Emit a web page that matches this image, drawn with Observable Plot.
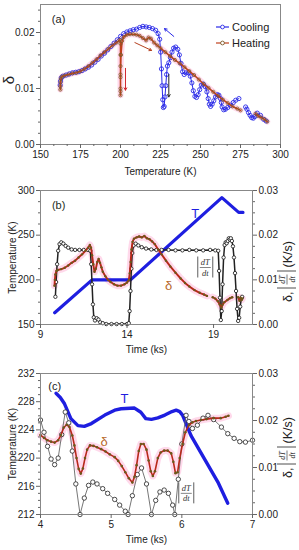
<!DOCTYPE html>
<html><head><meta charset="utf-8">
<script src="https://cdn.jsdelivr.net/npm/d3@7"></script>
<script src="https://cdn.jsdelivr.net/npm/@observablehq/plot@0.6"></script>
<style>
body{margin:0;background:#fff;width:299px;height:550px;overflow:hidden}
#a,#b,#c{position:relative}
svg{display:block}
</style></head><body>
<div id="a"></div><div id="b"></div><div id="c"></div>
<script>
// ---------------- Panel (a): delta vs temperature ----------------
const coolingA = [[291,0.0042],[289.5,0.0045],[287.5,0.0052],[285.5,0.0056],[284,0.0050],[283,0.0047],[282,0.0048],[281,0.0052],[280,0.0057],[279,0.0063],[278.2,0.0067],[NaN,NaN],[274,0.0082],[272,0.0079],[270.5,0.0075],[268.7,0.0070],[267,0.0066],[265.6,0.0063],[264.5,0.0062],[263.5,0.0067],[263,0.0075],[262.5,0.0082],[261.5,0.0088],[260.5,0.0089],[259.4,0.0085],[258.3,0.0078],[257.3,0.0072],[256.3,0.0068],[255.5,0.0072],[254.8,0.0082],[254,0.0094],[253,0.0103],[251.7,0.0108],[250.5,0.0106],[249.5,0.0098],[248.5,0.0089],[247.5,0.0084],[246.5,0.0086],[245.5,0.0096],[244.6,0.0110],[243.6,0.0122],[242.5,0.0128],[241,0.0128],[239.8,0.0125],[238.8,0.0130],[237.8,0.0145],[236.8,0.0160],[235.8,0.0170],[234.5,0.0174],[233.2,0.0172],[232.2,0.0165],[231.2,0.0155],[230.2,0.0146],[229.3,0.0140],[228.8,0.0125],[228.3,0.0105],[227.8,0.0085],[227.3,0.0068],[226.8,0.0066],[226.4,0.0080],[226,0.0105],[225.6,0.0135],[225.1,0.0165],[224.5,0.0188],[223.5,0.0198],[222,0.0204],[220,0.0207],[218,0.0209],[216,0.0210],[214,0.0211],[212,0.0209],[210,0.0206],[208,0.0205],[206,0.0203],[204,0.0201],[202,0.0198],[200,0.0193],[198,0.0187],[196,0.0181],[194,0.0175],[192,0.0169],[190,0.0163],[188,0.0158],[186,0.0152],[184,0.0147],[182,0.0142],[180,0.0138],[178,0.0135],[176,0.0132],[174,0.0130],[172,0.0129],[170,0.0128],[168,0.0126],[166,0.0124],[164,0.0122],[163,0.0119],[162.5,0.0113],[162.3,0.0106]];
const heatingA = [[162.4,0.0098],[162.4,0.0104],[162.5,0.0111],[162.7,0.0117],[163.3,0.0121],[165,0.0123],[167.5,0.0125],[170,0.0127],[172.5,0.0128],[175,0.0131],[177.5,0.0135],[180,0.0140],[182.5,0.0146],[185,0.0152],[187.5,0.0159],[190,0.0165],[192.5,0.0171],[195,0.0177],[197.5,0.0182],[199.6,0.0187],[200,0.0180],[200,0.0160],[200,0.0140],[200,0.0120],[200,0.0100],[200,0.0088],[200,0.0095],[200,0.0125],[200.3,0.0160],[201,0.0185],[202,0.0192],[204,0.0196],[206,0.0197],[208,0.0197],[210,0.0196],[212,0.0194],[214,0.0190],[216,0.0186],[217.5,0.0191],[219,0.0189],[221,0.0182],[223,0.0177],[225,0.0172],[228,0.0165],[231,0.0158],[234,0.0151],[237,0.0145],[240,0.0138],[243,0.0131],[246,0.0124],[249,0.0116],[252,0.0108],[255,0.0101],[258,0.0094],[261,0.0087],[264,0.0080],[267,0.0074],[270,0.0068],[273,0.0064],[275,0.0061],[NaN,NaN],[284.4,0.0055],[286,0.0051],[288,0.0048],[290,0.0045],[291.7,0.0041]];
const aXTicks = [150,175,200,225,250,275,300];
const aXMinor = [158.33,166.67,183.33,191.67,208.33,216.67,233.33,241.67,258.33,266.67,283.33,291.67];
const aYTicks = [0,0.01,0.02];
const aYMinor = [0.002,0.004,0.006,0.008,0.012,0.014,0.016,0.018,0.022,0.024];
const aArrows = [
  {x1:233.3,y1:0.0193,x2:227.5,y2:0.0207,c:"#2b2be8"},
  {x1:209,y1:0.0182,x2:219.4,y2:0.0168,c:"#b5401f"},
  {x1:230.2,y1:0.0125,x2:230.2,y2:0.0085,c:"#222"},
  {x1:203.1,y1:0.0136,x2:203.1,y2:0.0097,c:"#d0202a"}
];
const aLabels = [{x:161.3,y:0.0224,text:"(a)"}];
const aLegend = ["Cooling","Heating"];

// ---------------- Panel (b): time series ----------------
const bTemp = [[9.82,163.2],[11.98,200],[14.2,200],[19.48,292],[20.45,275.5],[20.7,275.5]];
const bRate = [[9.86,0.0062],[9.9,0.0095],[9.96,0.0135],[10.02,0.0165],[10.1,0.0180],[10.2,0.0184],[10.32,0.0181],[10.45,0.0176],[10.6,0.0172],[10.8,0.0168],[11.0,0.0167],[11.25,0.0167],[11.5,0.0167],[11.75,0.0167],[11.88,0.0165],[11.93,0.0135],[11.98,0.0090],[12.03,0.0045],[12.08,0.0016],[12.15,0.0009],[12.25,0.0014],[12.35,0.0011],[12.45,0.0005],[12.6,0.0003],[12.8,0.0001],[13.1,0.0001],[13.4,0.0001],[13.7,0.0001],[14.0,0.0001],[14.1,0.0003],[14.15,0.0030],[14.2,0.0075],[14.25,0.0125],[14.3,0.0160],[14.38,0.0177],[14.5,0.0181],[14.65,0.0177],[14.85,0.0173],[15.1,0.0170],[15.4,0.0168],[15.7,0.0167],[16.0,0.0167],[16.4,0.0167],[16.8,0.0166],[17.2,0.0166],[17.6,0.0167],[18.0,0.0166],[18.4,0.0166],[18.8,0.0167],[19.1,0.0166],[19.27,0.0165],[19.32,0.0120],[19.37,0.0060],[19.42,0.0010],[19.47,0.0030],[19.52,0.0090],[19.58,0.0150],[19.64,0.0178],[19.7,0.0184],[19.76,0.0182],[19.82,0.0187],[19.88,0.0193],[19.94,0.0190],[20.0,0.0193],[20.06,0.0187],[20.12,0.0175],[20.18,0.0150],[20.24,0.0115],[20.3,0.0075],[20.36,0.0035],[20.42,0.0008],[20.48,0.0015],[20.54,0.0040],[20.6,0.0058],[20.65,0.0062]];
const bDelta = [[9.81,0.0087],[9.83,0.0100],[9.86,0.0112],[9.92,0.0120],[10.0,0.0122],[10.2,0.0124],[10.4,0.0127],[10.6,0.0132],[10.8,0.0138],[11.0,0.0143],[11.2,0.0150],[11.4,0.0157],[11.6,0.0165],[11.75,0.0172],[11.85,0.0178],[11.92,0.0172],[11.98,0.0155],[12.05,0.0135],[12.12,0.0118],[12.2,0.0125],[12.28,0.0140],[12.36,0.0147],[12.44,0.0138],[12.52,0.0128],[12.6,0.0118],[12.75,0.0108],[12.9,0.0100],[13.05,0.0095],[13.25,0.0090],[13.45,0.0087],[13.65,0.0087],[13.85,0.0090],[14.0,0.0094],[14.1,0.0099],[14.16,0.0115],[14.21,0.0140],[14.26,0.0168],[14.32,0.0185],[14.4,0.0192],[14.55,0.0195],[14.7,0.0197],[14.85,0.0195],[15.0,0.0198],[15.15,0.0193],[15.3,0.0191],[15.45,0.0186],[15.6,0.0180],[15.8,0.0168],[16.0,0.0157],[16.25,0.0143],[16.5,0.0130],[16.8,0.0116],[17.1,0.0103],[17.35,0.0093],[17.6,0.0085],[17.9,0.0077],[18.2,0.0071],[18.45,0.0067],[18.62,0.0064],[NaN,NaN],[18.95,0.0061],[19.1,0.0058],[19.25,0.0052],[19.35,0.0045],[19.44,0.0038],[19.52,0.0044],[19.62,0.0050],[19.8,0.0055],[19.95,0.0059],[20.08,0.0061],[NaN,NaN],[20.42,0.0061],[20.5,0.0053],[20.56,0.0060],[20.62,0.0055],[20.66,0.0058]];
const bXTicks = [9,14,19];
const bYTicks = [150,200,250,300];
const bYMinor = [162.5,175,187.5,212.5,225,237.5,262.5,275,287.5];
const bRightTicks = [0,0.01,0.02,0.03];
const bLabels = [{x:10.05,y:283.5,text:"(b)",c:"#1e2e1e",s:11},{x:17.94,y:273.9,text:"T",c:"#1e1ee0",s:13},{x:16.4,y:193.6,text:"δ",c:"#b8682a",s:13}];
const bFrac = [{x:18.55,y:213.8}];

// ---------------- Panel (c): zoomed time series ----------------
const cTemp = [[4.22,229.2],[4.28,228.6],[4.34,227.7],[4.43,225.6],[4.53,224.6],[4.62,224.5],[4.72,224.9],[4.91,226.1],[5.05,226.8],[5.14,227.0],[5.33,227.1],[5.42,226.5],[5.49,225.6],[5.57,225.5],[5.66,225.7],[5.76,226.1],[5.86,226.6],[5.92,226.8],[5.97,226.6],[6.01,226.1],[6.13,223.2],[6.32,219.9],[6.51,216.6],[6.65,213.6]];
const cRate = [[4.0,0.0201],[4.05,0.0175],[4.1,0.0145],[4.15,0.0118],[4.2,0.0106],[4.25,0.0120],[4.3,0.0170],[4.35,0.0218],[4.4,0.0195],[4.45,0.0135],[4.5,0.0065],[4.56,0.0],[4.62,0.0035],[4.68,0.0062],[4.74,0.0069],[4.8,0.0065],[4.88,0.0055],[4.95,0.0045],[5.05,0.0032],[5.12,0.0020],[5.2,0.0007],[5.24,0.0],[5.3,0.0040],[5.37,0.0085],[5.43,0.0099],[5.5,0.0065],[5.57,0.0],[5.63,0.0030],[5.69,0.0048],[5.75,0.0052],[5.81,0.0045],[5.87,0.0020],[5.9,0.0],[5.95,0.0075],[6.0,0.0150],[6.06,0.0211],[6.1,0.0198],[6.15,0.0183],[6.22,0.0190],[6.3,0.0205],[6.37,0.0211],[6.45,0.0202],[6.56,0.0186],[6.65,0.0172],[6.74,0.0162],[6.82,0.0155],[6.9,0.0154],[7.0,0.0158]];
const cDelta = [[4.0,0.0169],[4.05,0.0163],[4.1,0.0158],[4.15,0.0155],[4.2,0.0153],[4.25,0.0158],[4.29,0.0169],[4.33,0.0185],[4.37,0.0191],[4.41,0.0186],[4.45,0.0168],[4.48,0.0147],[4.51,0.0120],[4.54,0.0097],[4.57,0.0087],[4.6,0.0098],[4.63,0.0120],[4.66,0.0138],[4.7,0.0147],[4.75,0.0146],[4.8,0.0143],[4.86,0.0139],[4.92,0.0134],[4.98,0.0128],[5.05,0.0122],[5.1,0.0114],[5.15,0.0103],[5.2,0.0090],[5.25,0.0077],[5.3,0.0068],[5.33,0.0080],[5.36,0.0105],[5.39,0.0135],[5.42,0.0150],[5.46,0.0150],[5.5,0.0138],[5.53,0.0115],[5.56,0.0092],[5.59,0.0082],[5.62,0.0092],[5.66,0.0120],[5.7,0.0132],[5.75,0.0136],[5.8,0.0136],[5.85,0.0130],[5.88,0.0112],[5.91,0.0088],[5.94,0.0090],[5.97,0.0120],[6.01,0.0150],[6.05,0.0175],[6.1,0.0190],[6.15,0.0196],[6.2,0.0199],[6.27,0.0201],[6.35,0.0203],[6.45,0.0205],[6.55,0.0205],[6.62,0.0208],[6.66,0.0210]];
const cXTicks = [4,5,6,7];
const cYTicks = [212,216,220,224,228,232];
const cYMinor = [213,214,215,217,218,219,221,222,223,225,226,227,229,230,231];
const cRightTicks = [0,0.01,0.02,0.03];
const cRightMinor = [0.0025,0.005,0.0075,0.0125,0.015,0.0175,0.0225,0.025,0.0275];
const cLabels = [{x:4.2,y:230.1,text:"(c)",c:"#222",s:11},{x:5.19,y:228.4,text:"T",c:"#1e1ee0",s:13},{x:4.9,y:222.3,text:"δ",c:"#b8682a",s:13}];
const cFrac = [{x:6.07,y:215.0}];

// ---------------- helpers ----------------
const FONT = "'Liberation Sans', Arial, Helvetica, sans-serif";
const SERIF = "'Liberation Serif', 'DejaVu Serif', serif";
const BLUE = "#2b2be8", TBLUE = "#1e1ee0", RED = "#b8281a", PINK = "#ffd0e6";
const rows = (arr, k1, k2) => arr.map(p => ({[k1]: p[0], [k2]: p[1]}));
const blank = () => "";

function absFrac(svg, cx, cy) {
  const g = svg.append("g").attr("transform", `translate(${cx},${cy})`);
  const ln = (x1,y1,x2,y2,w) => g.append("line").attr("x1",x1).attr("y1",y1).attr("x2",x2).attr("y2",y2).attr("stroke","#333").attr("stroke-width",w);
  ln(-7.5,-10.5,-7.5,10.5,0.8); ln(7.5,-10.5,7.5,10.5,0.8); ln(-5.5,0.5,5.5,0.5,0.6);
  g.append("text").attr("x",0).attr("y",-2).attr("text-anchor","middle").attr("font-family",SERIF).attr("font-style","italic").attr("font-size",8.5).attr("fill","#333").text("dT");
  g.append("text").attr("x",0).attr("y",8.6).attr("text-anchor","middle").attr("font-family",SERIF).attr("font-style","italic").attr("font-size",8.5).attr("fill","#333").text("dt");
}
function rightLabel(svg, x, y) {
  const g = svg.append("g").attr("transform", `translate(${x},${y}) rotate(-90)`).attr("fill","#222");
  const ln = (x1,y1,x2,y2,w) => g.append("line").attr("x1",x1).attr("y1",y1).attr("x2",x2).attr("y2",y2).attr("stroke","#222").attr("stroke-width",w);
  g.append("text").attr("x",-36).attr("y",4.5).attr("text-anchor","start").attr("font-family",FONT).attr("font-size",12.5).text("δ,");
  ln(-22,-10,-22,9,0.8); ln(-5,-10,-5,9,0.8); ln(-18.5,0,-8.5,0,0.6);
  g.append("text").attr("x",-13.5).attr("y",-2).attr("text-anchor","middle").attr("font-family",SERIF).attr("font-style","italic").attr("font-size",8).text("dT");
  g.append("text").attr("x",-13.5).attr("y",7.5).attr("text-anchor","middle").attr("font-family",SERIF).attr("font-style","italic").attr("font-size",8).text("dt");
  g.append("text").attr("x",-1.5).attr("y",4.5).attr("text-anchor","start").attr("font-family",FONT).attr("font-size",12.5).text("(K/s)");
}
const baseStyle = {fontFamily: FONT, fontSize: "10px", background: "white", color: "#222", overflow: "visible"};

// ---------------- draw (a) ----------------
const coolRows = rows(coolingA, "T", "d");
const heatRows = rows(heatingA, "T", "d");
const A = Plot.plot({
  width: 299, height: 180, marginLeft: 40, marginRight: 19, marginTop: 4, marginBottom: 36,
  style: baseStyle,
  x: {domain: [150, 300]},
  y: {domain: [0, 0.025]},
  marks: [
    Plot.line(heatRows, {x: "T", y: "d", stroke: PINK, strokeWidth: 6, strokeOpacity: 0.8}),
    Plot.line(coolRows, {x: "T", y: "d", stroke: BLUE, strokeWidth: 1}),
    Plot.dot(coolRows, {x: "T", y: "d", r: 2.1, stroke: BLUE, strokeWidth: 0.9, fill: "none"}),
    Plot.line(heatRows, {x: "T", y: "d", stroke: "#c0401e", strokeWidth: 1.6}),
    Plot.dot(heatRows, {x: "T", y: "d", r: 1.6, stroke: "#7d5a2a", strokeWidth: 0.8, fill: "none"}),
    Plot.arrow(aArrows, {x1: "x1", y1: "y1", x2: "x2", y2: "y2", stroke: "c", strokeWidth: 1, headLength: 4}),
    Plot.text(aLabels, {x: "x", y: "y", text: "text", fontSize: 11, fill: "#222"}),
    Plot.frame({stroke: "#888"}),
    Plot.axisX({ticks: aXTicks, tickSize: 4, tickPadding: 2, stroke: "#666", fill: "#222", tickFormat: d => d, label: "Temperature (K)", labelAnchor: "center", labelArrow: false, labelOffset: 30}),
    Plot.axisX({ticks: aXMinor, tickSize: 2, stroke: "#666", tickFormat: blank, label: null}),
    Plot.axisY({ticks: aYTicks, tickSize: 4, tickPadding: 2, stroke: "#666", fill: "#222", tickFormat: d3.format(".2f"), label: null}),
    Plot.axisY({ticks: aYMinor, tickSize: 2, stroke: "#666", tickFormat: blank, label: null})
  ]
});
document.getElementById("a").appendChild(A);
{
  const s = d3.select(A);
  s.append("text").attr("transform","translate(14,80) rotate(-90)").attr("text-anchor","middle").attr("font-family",FONT).attr("font-size",15).attr("fill","#222").text("δ");
  const lg = s.append("g").attr("font-family",FONT).attr("font-size",11).attr("fill","#222").attr("text-anchor","start");
  const cols = [BLUE, "#c0401e"], ys = [27, 43];
  aLegend.forEach((name, i) => {
    lg.append("line").attr("x1",216).attr("x2",229).attr("y1",ys[i]).attr("y2",ys[i]).attr("stroke",cols[i]).attr("stroke-width",1.2);
    lg.append("circle").attr("cx",222.5).attr("cy",ys[i]).attr("r",1.9).attr("fill","white").attr("stroke",i ? "#7d5a2a" : BLUE).attr("stroke-width",0.9);
    lg.append("text").attr("x",232).attr("y",ys[i]).attr("dy","0.35em").attr("text-anchor","start").text(name);
  });
}

// ---------------- draw (b) ----------------
const toB = v => 150 + v * 5000, fromB = d => (d - 150) / 5000;
const bT = rows(bTemp, "t", "T"), bR = rows(bRate, "t", "v"), bD = rows(bDelta, "t", "v");
const B = Plot.plot({
  width: 299, height: 180, marginLeft: 40, marginRight: 47, marginTop: 10, marginBottom: 36,
  style: baseStyle,
  x: {domain: [9, 21.25]},
  y: {domain: [150, 300]},
  marks: [
    Plot.line(bD, {x: "t", y: d => toB(d.v), stroke: PINK, strokeWidth: 7, strokeOpacity: 0.8}),
    Plot.line(bT, {x: "t", y: "T", stroke: TBLUE, strokeWidth: 3.2}),
    Plot.line(bR, {x: "t", y: d => toB(d.v), stroke: "#222", strokeWidth: 1.5}),
    Plot.dot(bR, {x: "t", y: d => toB(d.v), r: 1.7, stroke: "#111", strokeWidth: 0.8, fill: "white"}),
    Plot.line(bD, {x: "t", y: d => toB(d.v), stroke: RED, strokeWidth: 1.9}),
    Plot.dot(bD, {x: "t", y: d => toB(d.v), r: 1.2, fill: "#6b5a1c"}),
    Plot.text(bLabels, {x: "x", y: "y", text: "text", fill: "c", fontSize: "s"}),
    Plot.frame({stroke: "#888"}),
    Plot.axisX({ticks: bXTicks, tickSize: 4, tickPadding: 2, stroke: "#666", fill: "#222", tickFormat: d => d, label: "Time (ks)", labelAnchor: "center", labelArrow: false, labelOffset: 28}),
    Plot.axisY({ticks: bYTicks, tickSize: 4, tickPadding: 2, stroke: "#666", fill: "#222", label: "Temperature (K)", labelAnchor: "center", labelArrow: false, labelOffset: 32}),
    Plot.axisY({ticks: bYMinor, tickSize: 2, stroke: "#666", tickFormat: blank, label: null}),
    Plot.axisY({anchor: "right", ticks: bRightTicks.map(toB), tickSize: 4, tickPadding: 2, stroke: "#666", fill: "#222", tickFormat: d => fromB(d).toFixed(2), label: null}),
    Plot.axisY({anchor: "right", ticks: bYMinor, tickSize: 2, stroke: "#666", tickFormat: blank, label: null})
  ]
});
document.getElementById("b").appendChild(B);
{
  const s = d3.select(B), sx = B.scale("x"), sy = B.scale("y");
  bFrac.forEach(f => absFrac(s, sx.apply(f.x), sy.apply(f.y)));
  rightLabel(s, 287, 86);
}

// ---------------- draw (c) ----------------
const toC = v => 212 + v * 2000 / 3, fromC = d => (d - 212) * 0.0015;
const cT = rows(cTemp, "t", "T"), cR = rows(cRate, "t", "v"), cD = rows(cDelta, "t", "v");
const C = Plot.plot({
  width: 299, height: 190, marginLeft: 40, marginRight: 47, marginTop: 13, marginBottom: 36,
  style: baseStyle,
  x: {domain: [4, 7]},
  y: {domain: [212, 232]},
  marks: [
    Plot.line(cD, {x: "t", y: d => toC(d.v), stroke: PINK, strokeWidth: 7, strokeOpacity: 0.8}),
    Plot.line(cT, {x: "t", y: "T", stroke: TBLUE, strokeWidth: 3.4}),
    Plot.line(cR, {x: "t", y: d => toC(d.v), stroke: "#666", strokeWidth: 0.9}),
    Plot.dot(cR, {x: "t", y: d => toC(d.v), r: 2.2, stroke: "#222", strokeWidth: 0.8, fill: "white"}),
    Plot.line(cD, {x: "t", y: d => toC(d.v), stroke: RED, strokeWidth: 1.6}),
    Plot.dot(cD, {x: "t", y: d => toC(d.v), r: 1.3, fill: "#6b5a1c"}),
    Plot.text(cLabels, {x: "x", y: "y", text: "text", fill: "c", fontSize: "s"}),
    Plot.frame({stroke: "#888"}),
    Plot.axisX({ticks: cXTicks, tickSize: 4, tickPadding: 2, stroke: "#666", fill: "#222", tickFormat: d => d, label: "Time (ks)", labelAnchor: "center", labelArrow: false, labelOffset: 28}),
    Plot.axisY({ticks: cYTicks, tickSize: 4, tickPadding: 2, stroke: "#666", fill: "#222", tickFormat: d => d, label: "Temperature (K)", labelAnchor: "center", labelArrow: false, labelOffset: 32}),
    Plot.axisY({ticks: cYMinor, tickSize: 2, stroke: "#666", tickFormat: blank, label: null}),
    Plot.axisY({anchor: "right", ticks: cRightTicks.map(toC), tickSize: 4, tickPadding: 2, stroke: "#666", fill: "#222", tickFormat: d => fromC(d).toFixed(2), label: null}),
    Plot.axisY({anchor: "right", ticks: cRightMinor.map(toC), tickSize: 2, stroke: "#666", tickFormat: blank, label: null})
  ]
});
document.getElementById("c").appendChild(C);
{
  const s = d3.select(C), sx = C.scale("x"), sy = C.scale("y");
  cFrac.forEach(f => absFrac(s, sx.apply(f.x), sy.apply(f.y)));
  rightLabel(s, 287, 82);
}
</script></body></html>
